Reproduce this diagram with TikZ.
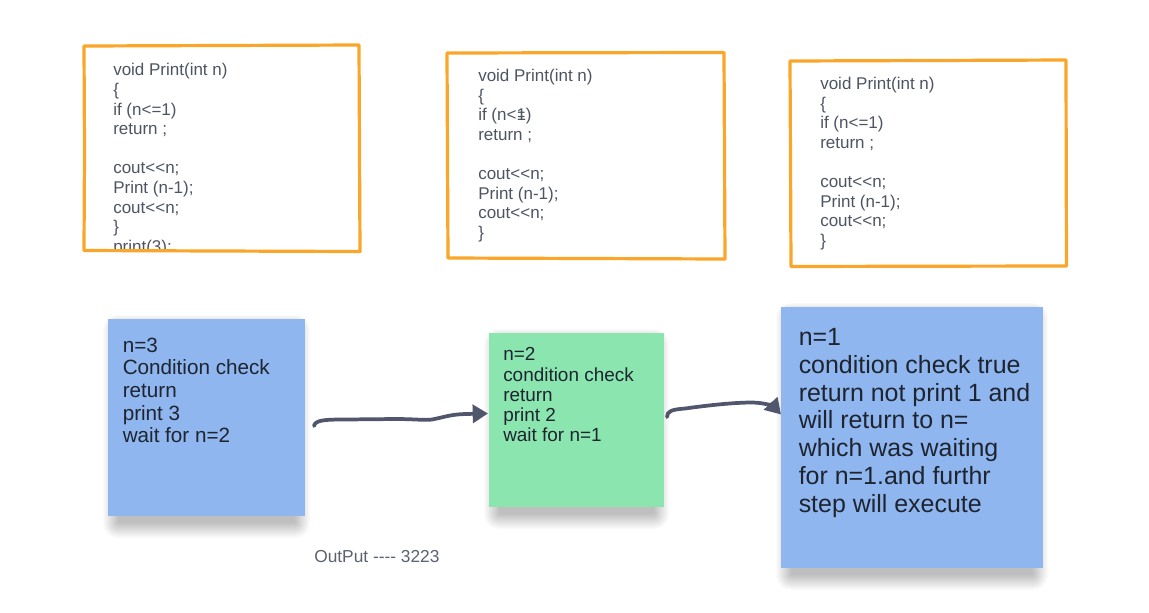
\documentclass[tikz,border=0pt]{standalone}
\usepackage{fontspec}
\usepackage{graphicx}
\setmainfont{Liberation Sans}
\usetikzlibrary{arrows.meta}
\definecolor{orng}{RGB}{250,166,42}
\definecolor{bluenote}{RGB}{143,182,238}
\definecolor{greennote}{RGB}{139,229,175}
\definecolor{codegray}{RGB}{78,84,98}
\definecolor{notetext}{RGB}{30,36,48}
\definecolor{arrowgray}{RGB}{80,86,107}
\definecolor{outgray}{RGB}{92,98,112}
\newcommand{\oddone}{\ooalign{\hfil1\hfil\cr\hfil\scalebox{0.8}[1]{=}\hfil}}
% soft shadow: #1,#2 = top-left corner, #3,#4 = bottom-right corner (px units)
\newcommand{\softshadow}[4]{%
  \foreach \k in {0,...,15}{%
    \fill[black, opacity=0.016, rounded corners=\k*0.75pt]
      (#1+10-\k, #2+8-0.8*\k) rectangle (#3-10+\k, #4+7+\k);
  }%
}
\begin{document}
\begin{tikzpicture}[x=0.75pt,y=-0.75pt,
  codebox/.style={draw=orng, line width=2.4pt, line join=round, line cap=round},
  codetext/.style={anchor=north west, inner sep=0pt, align=left, text=codegray,
    font=\fontsize{12.75pt}{14.7pt}\selectfont},
  note/.style={draw=none, inner sep=0pt},
  notetxt/.style={anchor=north west, inner sep=0pt, align=left, text=notetext},
  flow/.style={draw=arrowgray, line width=2.8pt, line cap=round, line join=round,
    -{Triangle[length=11.5pt,width=13.5pt]}}]

\useasboundingbox[fill=white] (0,0) rectangle (1149,612);

% ---------- code boxes ----------
\begin{scope}
  \clip (84,46) rectangle (360,250.5);
  \node[codetext] (c1) at (113,62) {\rule{0pt}{0.8em}void Print(int n)\\ \{\\ if (n<=1)\\ return ;\\ ~\\ cout<{}<n;\\ Print (n-1);\\ cout<{}<n;\\ \}\\ print(3);};
\end{scope}
\draw[codebox] (84,46) -- (220,45.5) -- (359,45) -- (359.5,150) -- (360,251.5) -- (220,251) -- (84,250.5) -- (84.5,150) -- cycle;

\node[codetext] (c2) at (478,67.6) {\rule{0pt}{0.8em}void Print(int n)\\ \{\\ if (n<\oddone)\\ return ;\\ ~\\ cout<{}<n;\\ Print (n-1);\\ cout<{}<n;\\ \}};
\draw[codebox] (447,53) -- (590,52.7) -- (724,52.5) -- (724.5,160) -- (725,259) -- (590,258.5) -- (448,258) -- (447.5,160) -- cycle;

\node[codetext] (c3) at (820,75.6) {\rule{0pt}{0.8em}void Print(int n)\\ \{\\ if (n<=1)\\ return ;\\ ~\\ cout<{}<n;\\ Print (n-1);\\ cout<{}<n;\\ \}};
\draw[codebox] (790,61) -- (930,60.5) -- (1066,60) -- (1066.2,160) -- (1066.5,266) -- (930,266.2) -- (791,266.5) -- (790.5,160) -- cycle;

% ---------- sticky notes ----------
\softshadow{108}{319}{305}{516}
\softshadow{489}{333}{664}{507}
\softshadow{781}{307}{1043}{568}
\node[note, fill=bluenote, minimum width=147.75pt, minimum height=147.75pt] (s1) at (206.5,417.5) {};
\node[note, fill=greennote, minimum width=131.25pt, minimum height=130.5pt] (s2) at (576.5,420) {};
\node[note, fill=bluenote, minimum width=196.5pt, minimum height=195.75pt] (s3) at (912,437.5) {};

\node[notetxt, font=\fontsize{15.5pt}{17pt}\selectfont] (t1) at (122.5,335.5)
  {\rule{0pt}{0.8em}n=3\\ Condition check\\ return\\ print 3\\ wait for n=2};
\node[notetxt, font=\fontsize{14.2pt}{15.2pt}\selectfont] (t2) at (503,345.5)
  {\rule{0pt}{0.8em}n=2\\ condition check\\ return\\ print 2\\ wait for n=1};
\node[notetxt, font=\fontsize{18.7pt}{20.8pt}\selectfont] (t3) at (798.5,325.5)
  {\rule{0pt}{0.8em}n=1\\ condition check true\\ return not print 1 and\\ will return to n=\\ which was waiting\\ for n=1.and furthr\\ step will execute};

\node[anchor=base west, inner sep=0pt, text=outgray, font=\fontsize{13pt}{15pt}\selectfont] (out) at (314,562.5) {OutPut -{}-{}-{}- 3223};

% ---------- connectors ----------
\coordinate (a1s) at (314,426);
\coordinate (a1e) at (488,413.5);
\coordinate (a2s) at (667,417);
\coordinate (a2e) at (781,414.5);

\draw[flow] (a1s) .. controls (315,420) and (325,419.5) .. (345,419.5) -- (395,419)
  .. controls (415,419) and (425,420.5) .. (432,419.5)
  .. controls (445,417) and (450,414.5) .. (465,414) -- (a1e);
\draw[flow] (a2s) .. controls (667,411) and (672,409.5) .. (685,408.5)
  .. controls (710,405) and (735,402.5) .. (752,402.5)
  .. controls (765,402.5) and (774,407) .. (a2e);
\end{tikzpicture}
\end{document}
